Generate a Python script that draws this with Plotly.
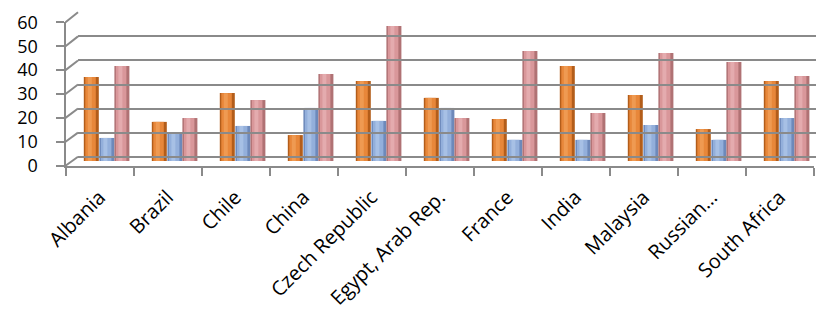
import plotly.graph_objects as go

categories = ["Albania", "Brazil", "Chile", "China", "Czech Republic", "Egypt, Arab Rep.",
              "France", "India", "Malaysia", "Russian…", "South Africa"]
series_orange = [35, 16.3, 28.3, 10.8, 33.3, 26.3, 17.5, 39.6, 27.5, 13.3, 33.3]
series_blue = [9.6, 11.7, 14.6, 22.1, 16.7, 22.1, 8.8, 8.8, 15.0, 8.8, 17.9]
series_pink = [39.6, 17.9, 25.4, 36.3, 56.3, 17.9, 45.8, 20.0, 45.0, 41.3, 35.4]
y_ticks = [0, 10, 20, 30, 40, 50, 60]

W, H = 816, 326
def px(x): return x / W
def py(y): return 1 - y / H

# geometry (pixels)
FX0, FX1 = 65.5, 813.5          # front category span
FY0, FY60 = 165.7, 22.3          # front value plane
BX0 = 78.0                      # back wall left
BY0, BY60 = 156.7, 12.3          # back wall value plane
MX = 6.5                        # bar plane shift
MY0, MY60 = 161.0, 17.0          # bar plane
cat_px = (FX1 - FX0) / len(categories)

grid_col = "#8a8a8a"
fig = go.Figure()

# front axis carrier (invisible)
fig.add_trace(go.Scatter(x=categories, y=[None] * len(categories), mode="markers",
                         marker=dict(opacity=0), showlegend=False, hoverinfo="skip",
                         xaxis="x", yaxis="y"))
# back wall carrier
fig.add_trace(go.Scatter(x=categories, y=[None] * len(categories), mode="markers",
                         marker=dict(opacity=0), showlegend=False, hoverinfo="skip",
                         xaxis="x3", yaxis="y3"))

bw = 15 / cat_px
series = [
    (series_orange, -22.2 / cat_px, "#b35d1a", "#e8873a", "#f6ad6a"),
    (series_blue, -6.6 / cat_px, "#6d89ba", "#93afdb", "#bcd1f0"),
    (series_pink, 8.4 / cat_px, "#b07274", "#d9979a", "#efc0c2"),
]
for vals, off, dark, main, light in series:
    fig.add_trace(go.Bar(x=categories, y=vals, offset=off, width=bw,
                         marker=dict(color=dark, line=dict(width=0)),
                         xaxis="x2", yaxis="y2", showlegend=False))
    fig.add_trace(go.Bar(x=categories, y=vals, offset=off + 1.5 / cat_px, width=10.5 / cat_px,
                         marker=dict(color=main, line=dict(width=0)),
                         xaxis="x2", yaxis="y2", showlegend=False))
    fig.add_trace(go.Bar(x=categories, y=vals, offset=off + 4 / cat_px, width=4 / cat_px,
                         marker=dict(color=light, line=dict(width=0), opacity=0.5),
                         xaxis="x2", yaxis="y2", showlegend=False))

shapes = []
for v in y_ticks:
    yf = FY0 + (FY60 - FY0) * v / 60
    yb = BY0 + (BY60 - BY0) * v / 60
    shapes.append(dict(type="line", xref="paper", yref="paper",
                       x0=px(FX0), y0=py(yf), x1=px(BX0), y1=py(yb),
                       line=dict(color=grid_col, width=2), layer="below"))

bar_x0 = FX0 + MX
n_vis = (W - bar_x0) / cat_px
back_n = (W - BX0) / cat_px

fig.update_layout(
    width=W, height=H,
    margin=dict(l=0, r=0, t=0, b=0),
    paper_bgcolor="white", plot_bgcolor="rgba(0,0,0,0)",
    barmode="overlay",
    font=dict(family="Open Sans", color="#000000"),
    shapes=shapes,
    xaxis=dict(domain=[px(FX0), px(FX1)], anchor="y", type="category",
               categoryorder="array", categoryarray=categories,
               range=[-0.5, len(categories) - 0.5],
               tickson="boundaries", ticks="outside", ticklen=8, tickwidth=2, tickcolor=grid_col,
               showline=True, linecolor=grid_col, linewidth=2, showgrid=False,
               tickangle=-45, tickfont=dict(size=20), automargin=False,
               ticklabelstandoff=10, ticklabelshift=0),
    yaxis=dict(domain=[py(FY0), py(FY60)], anchor="x", range=[0, 60],
               tickvals=y_ticks, ticks="outside", ticklen=8, tickwidth=2, tickcolor=grid_col,
               showline=True, linecolor=grid_col, linewidth=2, showgrid=False, zeroline=False,
               tickfont=dict(size=18), automargin=False, ticklabelstandoff=14),
    xaxis2=dict(domain=[px(bar_x0), 1], anchor="y2", type="category",
                categoryorder="array", categoryarray=categories,
                range=[-0.5, -0.5 + n_vis], visible=False),
    yaxis2=dict(domain=[py(MY0), py(MY60)], anchor="x2", range=[0, 60], visible=False),
    xaxis3=dict(domain=[px(BX0), 1], anchor="y3", type="category",
                categoryorder="array", categoryarray=categories,
                range=[-0.5, -0.5 + back_n], visible=False),
    yaxis3=dict(domain=[py(BY0), py(BY60)], anchor="x3", range=[0, 60],
                tickvals=y_ticks, showticklabels=False, ticks="",
                showgrid=True, gridcolor=grid_col, gridwidth=2,
                zeroline=True, zerolinecolor=grid_col, zerolinewidth=2,
                showline=False, automargin=False),
)

fig.write_html("out.html")
